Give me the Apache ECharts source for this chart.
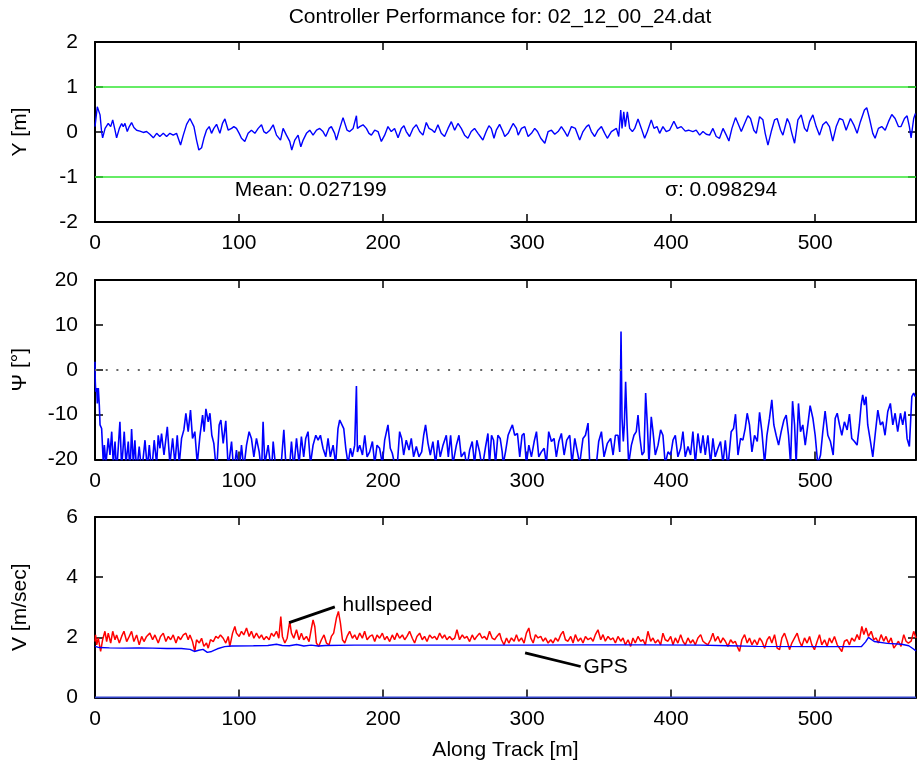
<!DOCTYPE html>
<html><head><meta charset="utf-8">
<script src="https://cdn.jsdelivr.net/npm/echarts@6/dist/echarts.min.js"></script>
<style>html,body{margin:0;padding:0;background:#fff}#c{width:917px;height:771px}</style>
</head><body><div id="c"></div>
<script>
// ---- data ----
const titleText = 'Controller Performance for: 02_12_00_24.dat';
const xTicks = [0, 100, 200, 300, 400, 500];
const yTicksOffset = [-2, -1, 0, 1, 2];
const yTicksHeading = [-20, -10, 0, 10, 20];
const yTicksSpeed = [0, 2, 4, 6];
const offsetBounds = [1, -1];
const headingRef = [0];
const offsetMean = 0.027199;
const offsetSigma = 0.098294;

// lateral offset Y [m] vs along-track [m]
const lateralOffset = [[0,0.12],[1.6,0.56],[3.5,0.38],[4.6,0.0],[5.3,-0.13],[7,0.08],[9.2,0.19],[10.9,0.12],[12.3,0.27],[13.9,0.04],[15,-0.13],[16.9,0.08],[18.5,0.19],[19.6,0.12],[20.8,0.19],[22.4,0.01],[23.8,0.12],[25.4,0.21],[27,0.1],[28.9,0.04],[31.2,0.02],[33.5,-0.01],[35.8,0.01],[38.1,-0.05],[40.5,-0.13],[42.8,-0.03],[45,-0.1],[47.4,-0.03],[49.7,-0.1],[52,-0.03],[54.3,-0.07],[56.6,-0.03],[59.4,-0.29],[61.3,-0.07],[63.6,0.17],[65.9,0.3],[67,0.27],[68.7,0.12],[70.5,-0.18],[72.1,-0.4],[74,-0.35],[75.6,-0.14],[77.4,0.04],[79.3,0.12],[80.9,-0.03],[82.5,0.08],[84.4,0.17],[86.7,-0.03],[88.5,0.19],[90.2,0.29],[92.5,0.04],[94.8,0.08],[96.4,0.12],[98.2,0.08],[100.1,-0.03],[101.7,-0.14],[104,-0.21],[106.3,-0.03],[108.6,0.04],[111,-0.03],[113.3,0.08],[115.6,0.16],[117.2,0.01],[119,-0.03],[121.4,0.04],[123.7,0.16],[126,-0.07],[128.8,-0.18],[130.6,0.08],[132.9,-0.07],[135.2,-0.21],[136.6,-0.4],[138.7,-0.18],[141,-0.07],[142.9,-0.33],[144.5,-0.18],[146.8,-0.03],[149.1,0.04],[151.4,-0.07],[153.8,0.04],[156,0.08],[158.3,0.01],[160.2,-0.1],[162.5,0.08],[164.1,0.12],[166.4,-0.03],[167.6,-0.18],[169.9,0.08],[172.2,0.32],[173.4,0.29],[175,0.04],[176.8,0.01],[179.2,0.08],[181.5,0.36],[182.2,0.08],[183.8,0.12],[186.1,0.16],[188.4,0.08],[190.2,-0.03],[191.9,-0.07],[194.2,0.04],[196.5,0.01],[198.8,-0.21],[201.1,-0.07],[203.4,0.12],[205.7,0.01],[208,0.08],[210.4,-0.13],[212.7,0.08],[214.5,0.14],[216.1,0.01],[218.4,-0.1],[220.8,0.08],[223.1,0.16],[225.4,0.01],[227.7,-0.07],[230,0.21],[231.9,0.08],[234.2,0.04],[235.8,-0.01],[238.1,0.16],[240.4,-0.03],[242.7,-0.1],[245.1,0.08],[247.4,0.23],[249.7,0.04],[252,0.19],[254.3,0.08],[256.6,-0.07],[258.9,-0.14],[261.2,0.01],[263.5,0.08],[265.9,-0.03],[267.5,-0.1],[269.3,-0.18],[271.6,0.01],[273.5,0.14],[275.1,0.08],[277,-0.14],[278.6,0.04],[280.9,0.17],[283.2,0.01],[284.5,-0.10],[286.8,-0.03],[290.3,0.19],[292.6,0.08],[293.8,-0.07],[296.1,0.08],[298.4,0.12],[300.7,-0.1],[303,-0.03],[305.3,0.08],[307.2,0.01],[309.5,-0.14],[312.3,-0.25],[314.6,0.01],[316.9,0.04],[319.2,-0.05],[321.5,0.01],[323.8,0.12],[326.1,0.01],[328,-0.1],[330.8,0.12],[333.5,0.08],[336.5,-0.18],[338.8,0.01],[341.2,0.12],[342.8,0.16],[344.6,0.01],[346.9,-0.1],[349.2,0.04],[351.6,0.12],[353.9,-0.03],[355.7,-0.14],[358.5,0.01],[362,0.08],[363.6,-0.1],[365,0.49],[365.9,0.08],[367.1,0.45],[368.2,0.12],[369.6,0.45],[371.2,0.08],[373.1,0.01],[374.7,0.08],[377,0.29],[379.3,0.08],[381.6,-0.14],[383.5,0.01],[386.2,0.27],[388.1,0.08],[390.2,0.12],[392,-0.03],[394.3,0.12],[396.6,0.01],[398.9,0.04],[401.9,0.24],[404.3,0.08],[407,0.12],[409.8,0.02],[412.1,0.04],[415.1,0.01],[417.4,0.04],[419.8,-0.07],[422.1,0.01],[424.4,-0.05],[426.7,-0.07],[429,0.08],[431.3,-0.1],[433.6,-0.14],[436,0.08],[438.3,-0.07],[440.1,-0.2],[442.2,0.08],[444.7,0.32],[446.8,0.16],[448.7,0.01],[451,0.19],[453.3,0.36],[455.1,0.30],[457.4,0.04],[459.1,-0.03],[461.4,0.34],[463.7,0.27],[465.3,-0.03],[467.2,-0.29],[469.5,0.01],[471.8,0.27],[473.6,0.30],[476,0.04],[477.6,-0.07],[480.6,0.30],[482.2,0.19],[483.8,-0.03],[485.7,-0.25],[488,0.27],[490.3,0.38],[492.6,0.08],[494.4,0.01],[496.1,0.23],[498.4,0.38],[500.7,0.12],[503,-0.07],[505.3,0.16],[507.6,0.23],[509.9,0.12],[512.2,-0.2],[514.6,0.12],[516.9,0.30],[519.2,0.27],[521.5,0.04],[524.5,0.30],[526.8,0.16],[529.1,-0.03],[531.4,0.23],[534.2,0.49],[535.8,0.54],[537.7,0.30],[540,-0.03],[541.6,-0.14],[543.9,0.08],[546.2,0.12],[548.6,0.04],[550.9,0.23],[553.2,0.39],[555.5,0.30],[557.8,0.12],[559.6,0.12],[562,0.30],[563.8,0.36],[565.4,0.12],[566.6,-0.13],[568.4,0.30],[569.6,0.41]];

// heading error Psi [deg]
const headingError = [[0,1.8],[0.2,-2.7],[0.5,-4.9],[1.2,-4.1],[1.6,-7.5],[2.3,-4.1],[3,-7.9],[3.5,-12.3],[4.6,-13.1],[5.8,-21],[6.5,-16.8],[7.6,-21],[9.2,-15.3],[10.4,-19],[11.6,-13.8],[12.7,-21],[13.9,-16],[15,-23],[17.3,-11.6],[18.5,-22],[20.3,-13.8],[21.5,-21],[23.1,-16],[24.3,-23],[25.4,-13.2],[26.6,-21],[27.7,-15.7],[28.9,-23],[30.7,-17.1],[32.4,-23],[34.7,-15.7],[36.3,-22],[37.7,-16.8],[39.3,-23],[41.1,-15.7],[42.8,-21],[43.9,-14.6],[45.1,-17.5],[46.2,-14.2],[47.9,-19],[50.2,-12.7],[52,-21],[53.9,-15.3],[55.5,-21],[57.1,-14.6],[58.5,-21],[60.1,-15.3],[61.7,-13.4],[63.1,-9.7],[64.7,-13.8],[66.3,-9.0],[67.7,-15.3],[69.3,-13.8],[71,-21],[72.8,-14.9],[74.7,-10.1],[75.8,-13.8],[77,-8.7],[78.6,-11.6],[79.8,-9.7],[81.1,-14.6],[82.5,-16.4],[84.4,-23],[86.2,-12.3],[87.4,-11.2],[89,-16.4],[90.8,-11.4],[92.5,-22],[94.8,-16],[96.4,-23],[98.2,-17.9],[100.1,-23],[101.7,-16.8],[103.3,-22],[105.2,-16.8],[107,-13.8],[108.6,-15.3],[110.3,-19.4],[112.1,-15.3],[114,-18.3],[115.6,-23],[116.7,-11.6],[117.9,-21],[120.2,-16.8],[122.5,-23],[123.7,-16],[125.5,-22],[127.1,-21],[128.8,-23],[131.1,-13.4],[132.5,-21],[134.8,-23],[136.4,-16],[138,-22],[139.9,-15.3],[141.7,-21],[143.3,-14.9],[144.9,-19.4],[146.3,-15.3],[147.9,-13.8],[149.6,-21],[151.4,-16.8],[153.3,-14.6],[154.9,-15.7],[156.5,-14.6],[158.3,-17.5],[160.2,-19.4],[161.8,-15.3],[163.4,-19.4],[165.3,-16.8],[167.1,-21],[168.7,-13.1],[169.9,-11.2],[171.1,-11.0],[172.7,-13.1],[174.1,-17.5],[175.7,-21],[177.3,-17.5],[178.7,-19.4],[180.3,-16.8],[181.5,-3.6],[182.2,-18.3],[183.8,-16.8],[185.7,-19],[187.3,-14.6],[188.9,-19.4],[190.7,-18.3],[192.6,-16],[194.2,-21],[195.8,-16.8],[197.6,-17.5],[199.5,-21],[201.1,-15.7],[203.4,-12.3],[205,-17.5],[206.4,-18.6],[208,-21],[209.7,-22],[211.5,-13.8],[212.9,-15.3],[214.3,-19],[216.1,-15.7],[218,-17.9],[219.6,-15.3],[221.2,-19.4],[223.1,-17.1],[224.9,-19.4],[226.8,-18.3],[228.2,-14.6],[229.5,-12.3],[231.2,-16.4],[232.8,-19],[234.6,-16],[236.5,-21],[238.1,-15.7],[239.7,-19.4],[241.6,-16.8],[243.9,-14.6],[245.3,-19.4],[246.9,-14.6],[248.5,-21],[250.9,-16.8],[252.7,-14.6],[254.3,-19.4],[256.6,-18.3],[258.2,-22],[260.1,-17.9],[261.9,-16],[263.5,-21],[265.1,-15.7],[267,-18.3],[268.8,-22],[271.2,-17.1],[272.8,-14.2],[273.9,-21],[275.3,-14.6],[276.7,-15.7],[278.1,-21],[279.7,-14.6],[281.3,-15.3],[282.7,-18.3],[283.4,-21],[285,-18.3],[286.8,-14.6],[288.7,-13.1],[289.8,-12.3],[291.4,-14.6],[293.3,-14.2],[294.9,-19.4],[296.5,-14.6],[297.9,-14.2],[299.5,-21],[301.2,-16.8],[303,-19.4],[304.9,-16],[306.5,-13.8],[308.1,-19.4],[309.9,-18.3],[311.8,-17.5],[313.4,-21],[315,-13.8],[316.9,-16],[318.7,-15.3],[320.3,-19.4],[322,-16],[323.8,-14.2],[325.7,-19],[327.5,-15.7],[329.6,-14.6],[331.2,-21],[333.1,-15.3],[334.9,-18.3],[336.5,-21],[338.8,-15.3],[340.5,-14.6],[342.3,-11.9],[343.5,-21],[345.1,-22],[348.1,-21],[349.7,-16],[351.6,-13.8],[353.4,-19.4],[355.7,-16.4],[358,-15.3],[359.7,-19],[361.3,-14.6],[363.1,-14.6],[364.3,-18.3],[365.2,8.5],[365.9,-10.8],[366.8,-16],[367.5,-12.3],[368.4,-2.7],[369.4,-12.3],[370.5,-21],[372.4,-16.8],[374.2,-14.6],[375.8,-13.8],[377,-10.1],[378.1,-14.6],[379.8,-19],[381.2,-18.3],[382.3,-5.2],[383.5,-12.3],[384.6,-21],[386.2,-10.5],[387.4,-13.8],[389,-19],[390.9,-16.8],[392.7,-13.4],[394.3,-14.6],[395.9,-21],[397.8,-18.3],[399.7,-19],[401.3,-15.7],[402.9,-14.6],[404.7,-19.4],[406.6,-17.5],[408.2,-13.8],[409.8,-19.4],[411.7,-17.1],[413.5,-19],[415.1,-13.8],[416.8,-21],[418.6,-14.2],[420.5,-18.6],[422.1,-14.6],[423.7,-19],[425.5,-14.6],[427.4,-21],[429,-15.3],[430.6,-19.4],[432.5,-17.5],[434.3,-16],[436,-21],[437.6,-15.7],[439.4,-22],[441.7,-13.8],[443.3,-13.1],[444.7,-9.9],[446.4,-19],[448.2,-15.3],[449.8,-15.7],[451.4,-13.1],[452.8,-9.7],[454.4,-12.3],[456.1,-18.3],[457.9,-14.6],[459.8,-16],[461.4,-9.5],[463,-13.8],[464.9,-21],[466.5,-14.6],[468.3,-10.8],[469.9,-6.7],[471.3,-12.3],[472.9,-14.6],[474.6,-16.8],[476.4,-13.8],[478.3,-11.2],[479.9,-10.1],[481.5,-14.6],[482.9,-21],[484.3,-7.0],[485.7,-12.3],[486.8,-21],[488.4,-7.5],[489.8,-13.8],[491.4,-12.3],[493.1,-16.8],[494.9,-12.3],[496.5,-8.0],[498.4,-10.8],[500,-14.6],[501.8,-21],[503.7,-19],[505.3,-13.8],[506.9,-9.2],[508.8,-14.6],[510.6,-16],[512.5,-19],[513.9,-10.8],[515.3,-9.7],[516.9,-12.3],[518.5,-14.6],[520.3,-11.6],[522.2,-13.4],[523.8,-9.9],[525.4,-15.3],[527.3,-16],[529.1,-16.8],[530.7,-12.3],[531.9,-7.9],[533,-5.6],[534.2,-7.9],[535.3,-6.0],[536.5,-12.3],[538.4,-16],[540,-19.4],[541.6,-14.6],[543.5,-9.0],[545.3,-12.3],[546.9,-11.6],[548.5,-14.6],[550.4,-9.3],[552.2,-7.5],[553.9,-12.3],[555.5,-9.7],[557.3,-13.8],[559.2,-9.7],[560.8,-12.3],[562.4,-9.3],[563.8,-15.3],[565.4,-17.1],[567.1,-6.0],[568.4,-5.2],[569.6,-6.0]];

// hull speed [m/s]
const hullSpeed = [[0,1.86],[0.4,2.08],[1.2,1.75],[2.3,1.97],[3.9,1.53],[5.3,1.92],[6.9,2.20],[8.1,1.86],[9.2,2.14],[10.9,1.81],[12.3,2.20],[13.9,1.92],[15,2.08],[16.9,1.81],[18.5,2.03],[20.1,2.20],[22,1.86],[23.8,2.03],[25.4,2.20],[27,1.86],[28.9,2.08],[30.7,1.75],[32.4,2.03],[34,1.86],[35.8,2.03],[38.1,2.14],[40,1.92],[41.6,2.08],[43.9,1.81],[45.5,2.03],[47.4,2.14],[49.2,1.86],[50.9,2.03],[52.5,1.92],[54.3,2.08],[56.2,1.81],[57.8,2.03],[59.4,1.92],[61.3,2.08],[63.1,2.14],[64.7,1.92],[65.9,2.08],[67.7,1.86],[69.3,1.53],[70.5,1.92],[72.4,1.81],[74,1.97],[75.6,1.70],[77.4,1.81],[78.6,1.64],[80.2,1.92],[82.1,1.86],[83.9,2.03],[85.5,1.97],[87.1,2.08],[89,1.97],[90.8,1.81],[92.5,2.03],[93.6,1.70],[95.5,2.14],[97.1,2.36],[98.2,2.14],[100.1,2.03],[101.7,2.20],[103.3,2.08],[105.2,2.31],[107,2.03],[108.6,2.20],[110.3,1.97],[112.1,2.14],[114,1.97],[115.6,2.08],[117.2,1.92],[119,2.03],[120.9,1.92],[122.5,2.14],[124.1,2.03],[126,2.20],[127.6,1.97],[129,2.69],[130.1,2.03],[131.8,1.81],[133.4,1.97],[135.2,2.53],[136.4,2.14],[138,1.97],[139.9,2.25],[141.7,1.92],[143.3,2.14],[144.9,1.92],[146.8,2.03],[148.6,1.86],[150.3,2.31],[151.4,2.58],[152.6,2.36],[153.7,1.81],[155.3,1.70],[157.2,1.92],[159,2.08],[160.7,1.81],[162.5,1.75],[164.1,2.03],[165.7,2.14],[167.6,2.64],[169,2.86],[170.4,2.47],[171.8,1.92],[173.4,1.81],[175,2.03],[176.8,2.20],[178.7,1.97],[180.3,2.08],[181.9,1.92],[183.8,2.14],[185.6,1.97],[187.2,2.20],[188.9,1.92],[190.7,2.03],[192.6,2.08],[194.2,1.86],[195.8,2.08],[197.6,1.97],[199.5,2.14],[201.1,1.92],[202.7,2.03],[204.6,1.86],[206.4,2.08],[208,1.92],[209.7,2.14],[211.5,1.97],[213.4,2.08],[215,1.92],[216.6,2.03],[218.4,2.20],[220.3,1.97],[221.9,1.81],[223.5,2.03],[225.4,2.14],[227.2,1.92],[228.8,2.03],[230.5,1.86],[232.3,2.08],[234.2,1.97],[235.8,2.03],[237.4,1.92],[239.3,2.14],[241.1,1.97],[242.7,2.08],[244.3,1.92],[246.2,2.03],[248,1.92],[249.7,1.97],[251.3,2.25],[253.1,1.92],[255,2.08],[256.6,1.97],[258.2,2.03],[260.1,1.86],[261.9,2.08],[263.5,1.92],[265.1,2.03],[267,2.14],[268.8,1.97],[270.4,2.03],[272.1,1.92],[273.9,2.20],[275.8,1.97],[277.4,1.92],[279,2.03],[280.9,2.14],[282.2,1.92],[284,1.75],[285.7,1.98],[287.3,1.81],[289.1,1.98],[291,1.87],[292.6,2.09],[294.2,1.87],[296.1,1.98],[297.9,1.81],[299.5,2.14],[301.2,2.31],[302.5,1.98],[304.2,1.81],[305.8,2.09],[307.6,1.98],[309.5,2.03],[311.1,1.87],[312.7,1.98],[314.6,1.81],[316.4,1.92],[318,1.81],[319.7,1.98],[321.5,1.87],[323.4,2.09],[325,2.20],[326.6,1.92],[328.4,1.87],[330.3,2.03],[331.9,1.81],[333.5,2.09],[335.4,1.87],[337.2,1.98],[338.8,1.81],[340.5,2.03],[342.3,1.92],[344.2,1.98],[345.8,1.87],[347.4,2.09],[349.2,2.25],[351.1,1.92],[352.7,2.09],[354.3,1.87],[356.2,2.03],[358,1.92],[359.7,1.98],[361.3,1.81],[363.1,2.03],[365,1.87],[366.6,1.98],[368.2,1.75],[370.1,1.92],[371.9,1.70],[373.5,1.98],[375.1,1.81],[377,2.03],[378.8,1.87],[380.5,1.92],[382.1,1.75],[383.9,2.20],[385.8,1.87],[387.4,1.98],[389,1.81],[390.9,1.92],[392.7,1.75],[394.3,2.14],[395.9,1.92],[397.8,1.87],[399.7,2.03],[401.3,1.75],[402.9,1.98],[404.7,1.81],[406.6,2.09],[408.2,1.87],[409.8,1.75],[411.7,1.98],[413.5,1.81],[415.1,1.92],[416.8,1.75],[418.6,1.98],[420.5,2.09],[422.1,1.87],[423.7,1.81],[425.5,1.75],[427.4,1.92],[429,2.14],[430.6,1.87],[432.5,2.03],[434.3,1.81],[436,1.98],[437.6,1.87],[439.4,1.70],[441.3,1.92],[442.9,1.81],[444.5,1.87],[446.4,1.64],[447.5,1.53],[449.1,1.92],[451,2.09],[452.8,1.81],[454.4,1.98],[456.1,1.75],[457.9,1.92],[459.8,1.75],[461.4,1.98],[463,1.87],[464.9,1.64],[466.7,1.92],[468.3,2.03],[469.9,1.81],[471.8,2.09],[473.6,1.64],[475.3,1.59],[476.9,1.98],[478.7,2.14],[480.6,1.87],[482.2,1.59],[483.8,1.81],[485.7,1.98],[487.5,2.14],[489.1,1.87],[490.7,1.70],[492.6,1.98],[494.4,1.81],[496.1,2.03],[497.7,1.75],[499.5,1.59],[501.4,1.87],[503,2.09],[504.6,1.75],[506.5,1.92],[508.3,1.70],[509.9,1.98],[511.5,1.81],[513.4,2.03],[515.3,1.75],[516.9,1.64],[518.5,1.53],[520.3,1.87],[522.2,1.92],[523.8,1.75],[525.4,1.98],[527.3,1.87],[529.1,2.09],[530.7,1.92],[532.4,2.36],[533.8,2.09],[535.3,2.31],[537,2.03],[538.9,2.20],[540.7,1.92],[542.3,1.98],[543.9,1.81],[545.8,2.09],[547.6,1.87],[549.2,2.03],[550.9,1.81],[552.7,1.98],[554.6,1.64],[556.2,1.75],[557.8,1.87],[559.6,1.70],[561.5,2.09],[563.1,1.87],[564.7,1.81],[566.6,1.87],[568.4,2.20],[570,1.98]];

// GPS speed [m/s]
const gpsSpeed = [[0,1.70],[3,1.66],[10,1.65],[20,1.64],[30,1.65],[40,1.64],[50,1.63],[60,1.63],[66,1.60],[69,1.53],[72,1.57],[75,1.60],[78,1.50],[81,1.53],[85,1.62],[90,1.69],[95,1.71],[110,1.72],[120,1.73],[126,1.77],[130,1.73],[135,1.72],[140,1.76],[145,1.71],[150,1.74],[155,1.71],[160,1.73],[180,1.74],[220,1.74],[260,1.74],[300,1.74],[340,1.75],[380,1.75],[420,1.74],[440,1.72],[460,1.70],[500,1.69],[532,1.69],[535,1.85],[537,2.0],[541,1.86],[550,1.80],[560,1.77],[565,1.72],[568,1.62],[570,1.55]];

const speedZero = [[0,0],[570,0]];

// ---- chart ----
const FONT = '"Liberation Sans", Arial, Helvetica, sans-serif';
const FS = 21;
const X_MAX = 570;
const grids = [
  {left:95, top:42, width:821, height:180},
  {left:95, top:280, width:821, height:179.5},
  {left:95, top:517, width:821, height:180.5}
];
function xAx(g, top, name){
  return {type:'value', gridIndex:g, position: top?'top':'bottom', min:0, max:X_MAX, interval:xTicks[1]-xTicks[0],
    axisLine:{show:true, onZero:false, lineStyle:{color:'#000', width:2}},
    axisTick:{show:true, inside:true, length:8, lineStyle:{color:'#000', width:1.5}},
    axisLabel:{show:!top, margin:11, fontSize:FS, color:'#000', fontFamily:FONT, showMaxLabel:false},
    splitLine:{show:false},
    name: name||'', nameLocation:'middle', nameGap:42,
    nameTextStyle:{fontSize:FS, color:'#000', fontFamily:FONT}};
}
function yAx(g, right, ticks, name){
  return {type:'value', gridIndex:g, position: right?'right':'left', min:ticks[0], max:ticks[ticks.length-1], interval:ticks[1]-ticks[0],
    axisLine:{show:true, onZero:false, lineStyle:{color:'#000', width:2}},
    axisTick:{show:true, inside:true, length:8, lineStyle:{color:'#000', width:1.5}},
    axisLabel:{show:!right, margin:17, fontSize:FS, color:'#000', fontFamily:FONT},
    splitLine:{show:false},
    name: right?'':name, nameLocation:'middle', nameGap:64, nameRotate:90,
    nameTextStyle:{fontSize:FS, color:'#000', fontFamily:FONT}};
}
const txt = {fontSize:FS, color:'#000', fontFamily:FONT};

const option = {
  animation:false,
  backgroundColor:'#fff',
  grid: grids,
  graphic:[{type:'text', x:500, y:17, style:{text:titleText, textAlign:'center', textVerticalAlign:'middle', fill:'#000', font: FS+'px '+FONT}}],
  xAxis:[xAx(0,false), xAx(0,true), xAx(1,false), xAx(1,true), xAx(2,false,'Along Track [m]'), xAx(2,true)],
  yAxis:[yAx(0,false,yTicksOffset,'Y [m]'), yAx(0,true,yTicksOffset), yAx(1,false,yTicksHeading,'\u03A8 [\u00B0]'), yAx(1,true,yTicksHeading), yAx(2,false,yTicksSpeed,'V [m/sec]'), yAx(2,true,yTicksSpeed)],
  series:[
    {type:'line', name:'Y', xAxisIndex:0, yAxisIndex:0, data:lateralOffset, showSymbol:false, lineStyle:{color:'#0000ff', width:1.4}, itemStyle:{color:'#0000ff'},
      markLine:{silent:true, symbol:'none', label:{show:false}, lineStyle:{color:'#33e633', type:'solid', width:1.6},
        data: offsetBounds.map(v=>({yAxis:v}))},
      markPoint:{silent:true, symbol:'circle', symbolSize:0, data:[
        {coord:[97.1,-1.29], label:{show:true, position:'right', distance:0, formatter:'Mean: '+offsetMean, ...txt}},
        {coord:[395.7,-1.29], label:{show:true, position:'right', distance:0, formatter:'\u03C3: '+offsetSigma, ...txt}}
      ]}},
    {type:'line', name:'Psi', xAxisIndex:2, yAxisIndex:2, data:headingError, showSymbol:false, lineStyle:{color:'#0000ff', width:1.6}, itemStyle:{color:'#0000ff'},
      markLine:{silent:true, symbol:'none', label:{show:false}, lineStyle:{color:'#666', type:[2,8.7], width:2},
        data: headingRef.map(v=>({yAxis:v}))}},
    {type:'line', name:'zero', xAxisIndex:4, yAxisIndex:4, data:speedZero, showSymbol:false, lineStyle:{color:'#3344cc', width:2}, z:3},
    {type:'line', name:'hullspeed', xAxisIndex:4, yAxisIndex:4, data:hullSpeed, showSymbol:false, lineStyle:{color:'#ff0000', width:1.5}, itemStyle:{color:'#ff0000'},
      markLine:{silent:true, symbol:'none', label:{show:false}, lineStyle:{color:'#000', type:'solid', width:2.8},
        data:[[{coord:[134.8,2.49]},{coord:[166.5,3.01]}]]},
      markPoint:{silent:true, symbol:'circle', symbolSize:0, data:[
        {coord:[171.9,3.08], label:{show:true, position:'right', distance:0, formatter:'hullspeed', ...txt}}]}},
    {type:'line', name:'GPS', xAxisIndex:4, yAxisIndex:4, data:gpsSpeed, showSymbol:false, lineStyle:{color:'#0000ff', width:1.4}, itemStyle:{color:'#0000ff'},
      markLine:{silent:true, symbol:'none', label:{show:false}, lineStyle:{color:'#000', type:'solid', width:2.8},
        data:[[{coord:[298.6,1.48]},{coord:[337.2,1.03]}]]},
      markPoint:{silent:true, symbol:'circle', symbolSize:0, data:[
        {coord:[339.1,1.0], label:{show:true, position:'right', distance:0, formatter:'GPS', ...txt}}]}}
  ]
};
const chart = echarts.init(document.getElementById('c'), null, {renderer:'canvas'});
chart.setOption(option);
</script></body></html>
